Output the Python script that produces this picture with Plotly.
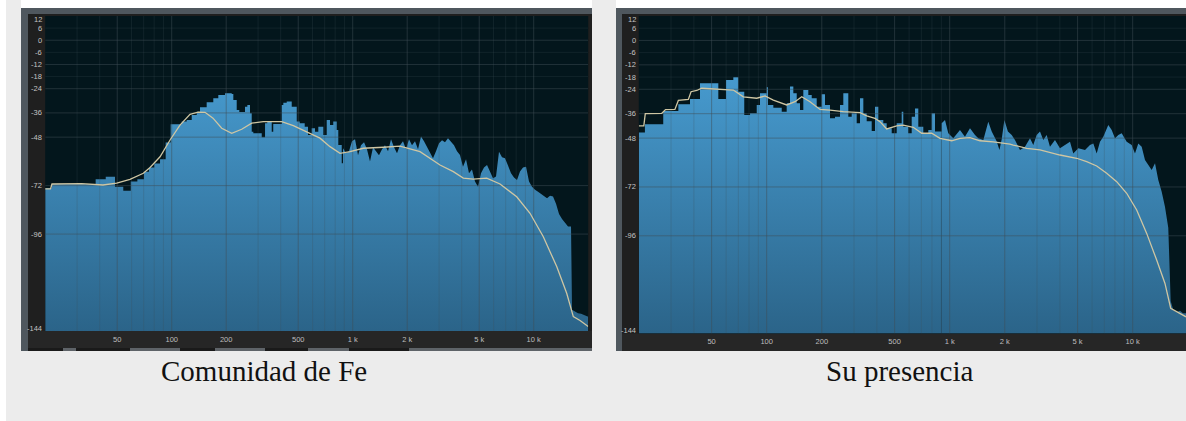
import numpy as np
import plotly.graph_objects as go

W, H = 1186, 421

# ---- shared analyzer scales ----
TICK_HZ = [50, 100, 200, 500, 1000, 2000, 5000, 10000]
TICK_TEXT = ["50", "100", "200", "500", "1 k", "2 k", "5 k", "10 k"]
MINOR_HZ = [30, 40, 60, 70, 80, 90, 300, 400, 600, 700, 800, 900,
            3000, 4000, 6000, 7000, 8000, 9000]
DB_TICKS = [12, 6, 0, -6, -12, -18, -24, -36, -48, -72, -96, -144]
DB_GRID_MAJOR = [0, -12, -24, -36, -48, -72, -96]
DB_GRID_MINOR = [6, -6, -18]
DB_MIN, DB_MAX = -144, 12
F_MIN = 20
F_MAX_LEFT = 20000
F_MAX_RIGHT = 19560
# above this frequency the bins are narrower than a pixel: draw the envelope as a line
SPLIT_HZ = 880

# ---- "Comunidad de Fe": spectrum (bin start in Hz, level in dB) ----
fe_freq = [
    20, 21.7, 38, 43.2, 48.6, 54, 59.4, 64.6, 70.3, 74.9,
    80.1, 86.2, 92.6, 98.7, 113.6, 121, 129, 137.5, 143.3, 156,
    169.7, 180.9, 197, 214.6, 219, 228.6, 236.3, 254.1, 261.7, 270.8,
    276.7, 282.4, 314.3, 327.8, 337.4, 356.9, 363.9, 405.4, 413.7, 431.9,
    460.3, 490.6, 509.4, 543, 566.2, 593.6, 619, 645.6, 688, 718.5,
    749, 781, 815.7, 832.4, 869.6,
    884, 918, 954, 991, 1030, 1070, 1111, 1155, 1199, 1246,
    1295, 1345, 1397, 1452, 1508, 1567, 1628, 1691, 1757, 1825,
    1896, 1970, 2046, 2126, 2209, 2295, 2384, 2477, 2573, 2673,
    2777, 2885, 2998, 3115, 3235, 3361, 3492, 3628, 3769, 3915,
    4068, 4227, 4390, 4561, 4739, 4923, 5114, 5314, 5521, 5736,
    5958, 6190, 6431, 6681, 6940, 7211, 7491, 7783, 8085, 8400,
    8727, 9067, 9419, 9786, 10167, 10563, 10973, 11400, 11844, 12305,
    12783, 13281, 13798, 14335, 14892, 15472, 16074, 16280, 17000, 17570,
    18258, 18967, 19700,
]
fe_db = [
    -73.3, -71.3, -68.8, -67.6, -72.5, -74.5, -70.0, -68.8, -65.1, -63.0,
    -61.0, -58.9, -50.6, -41.6, -40.3, -39.5, -37.0, -35.4, -33.2, -30.7,
    -28.7, -27.1, -26.3, -26.6, -29.6, -34.5, -35.5, -32.9, -32.1, -36.2,
    -45.3, -46.1, -48.0, -41.1, -40.3, -45.3, -41.5, -32.1, -30.9, -30.4,
    -32.9, -40.3, -41.1, -42.8, -46.9, -43.6, -45.3, -42.8, -46.9, -39.5,
    -42.0, -40.3, -44.4, -51.9, -60.9,
    -53.5, -56.0, -55.0, -50.0, -49.0, -57.0, -52.0, -50.5, -54.0, -60.0,
    -53.0, -55.0, -57.0, -54.0, -52.0, -55.0, -49.0, -53.0, -56.0, -52.0,
    -50.0, -54.0, -49.0, -52.0, -50.0, -54.0, -47.7, -50.0, -53.0, -55.5,
    -58.5, -55.0, -51.0, -49.5, -50.5, -48.5, -50.5, -52.0, -55.0, -56.8,
    -62.6, -59.0, -65.9, -64.0, -70.0, -72.5, -65.9, -63.0, -61.8, -65.0,
    -68.3, -67.5, -55.2, -58.0, -58.5, -62.0, -65.9, -68.0, -69.2, -65.0,
    -63.0, -62.6, -70.0, -72.5, -74.1, -75.0, -76.0, -77.0, -78.2, -77.0,
    -77.4, -81.0, -86.0, -88.5, -90.5, -92.3, -92.3, -133.5, -134.5, -135.2,
    -135.5, -136.2, -136.9,
]
# smoothed average curve
fe_curve_freq = [
    20, 21.4, 21.8, 31.8, 41.7, 49.7, 58.8, 69.7, 75.9, 86.2,
    97.9, 111.1, 126.2, 140, 152.8, 169.1, 188.9, 214.6, 243.6, 276.7,
    320.7, 405.4, 469.7, 557, 659.6, 749, 851, 966, 1145, 1476,
    1825, 2354, 3036, 3596, 4083, 4637, 5500, 6514, 8055, 9541,
    11298, 13400, 15215, 16553, 18024, 20000,
]
fe_curve_db = [
    -73.6, -73.6, -71.2, -71.0, -71.7, -70.8, -68.9, -65.9, -63.0, -57.7,
    -49.4, -42.0, -36.7, -35.6, -35.7, -38.6, -43.6, -46.1, -44.1, -41.1,
    -40.3, -40.3, -42.3, -45.3, -48.5, -52.7, -56.0, -55.2, -53.5, -53.0,
    -52.4, -55.2, -61.8, -65.1, -68.3, -68.8, -68.3, -71.2, -77.5, -85.7,
    -97.3, -112.1, -125.3, -136.9, -138.8, -141.8,
]

# ---- "Su presencia": spectrum (bin start in Hz, level in dB) ----
sp_freq = [
    20, 21.6, 27.2, 32.9, 38.1, 43.2, 54.4, 59.9, 65.7, 69.9,
    75.4, 81.1, 88.2, 91.9, 100, 101.6, 108.7, 120.8, 128.6, 134.1,
    139.8, 145.9, 152.1, 158.5, 168.8, 176.2, 187.6, 199.7, 208.2, 221.8,
    236.2, 251.5, 262.2, 279.2, 291.4, 310.3, 323.5, 337.3, 351.9, 374.8,
    390.7, 407.3, 433.7, 452.6, 482.1, 513.4, 546.7, 557.8, 593.9, 620,
    646.3, 673.7, 717.4, 764, 797.3, 831.2, 904.1, 942.6, 982.5, 1046,
    1138, 1212, 1291, 1375, 1433, 1527, 1625, 1697, 1806, 1870,
    1924, 1990, 2080, 2182, 2274, 2422, 2579, 2747, 2863, 2988,
    3115, 3247, 3388, 3532, 3762, 4006, 4267, 4544, 4736, 5043,
    5489, 5844, 6093, 6358, 6627, 6908, 7357, 7679, 8006, 8346,
    8708, 9273, 9874, 10294, 10731, 11200, 11675, 12172, 12700, 13244,
    13803, 14405, 15013, 15649, 16131, 16672, 17395, 18136, 18834,
]
sp_db = [
    -45.3, -41.2, -34.7, -31.4, -28.8, -21.1, -28.8, -19.4, -18.1, -25.2,
    -36.6, -35.8, -31.7, -26.0, -23.0, -31.7, -33.1, -35.0, -30.9, -22.7,
    -26.0, -30.9, -34.2, -24.4, -26.8, -28.4, -32.6, -26.5, -31.7, -38.3,
    -37.5, -31.7, -26.0, -37.5, -35.8, -40.7, -28.4, -35.8, -39.7, -44.5,
    -32.6, -39.1, -40.7, -43.2, -45.6, -40.7, -35.0, -42.4, -45.6, -37.5,
    -33.4, -42.4, -45.6, -44.0, -35.8, -44.8, -40.7, -39.1, -45.6, -48.1,
    -44.0, -47.3, -43.2, -46.5, -48.1, -48.9, -39.9, -44.8, -49.5, -53.8,
    -48.5, -39.1, -44.8, -46.5, -48.9, -53.8, -52.2, -48.1, -51.4, -46.5,
    -44.8, -48.9, -46.5, -52.2, -48.9, -53.0, -51.4, -49.8, -55.5, -53.0,
    -53.8, -51.4, -50.6, -55.5, -49.8, -47.3, -41.6, -44.0, -48.1, -46.5,
    -45.6, -49.8, -51.4, -55.5, -50.6, -52.2, -58.8, -61.2, -63.7, -60.4,
    -68.6, -74.3, -81.7, -92.0, -128.0, -132.5, -133.5, -132.8, -134.0,
]
sp_curve_freq = [
    20, 21.3, 21.7, 26.7, 28, 31.5, 32.9, 37.3, 38.6, 41.5,
    44.1, 47, 60.4, 65.7, 74.5, 88.2, 97.9, 108.7, 128.6, 142.8,
    155.4, 172.4, 195.6, 221.8, 262.2, 285.3, 323.5, 351.9, 390.7, 416,
    452.6, 513.4, 557.8, 632.6, 703.1, 797.3, 885.1, 1025, 1138, 1291,
    1464, 1731, 1963, 2135, 2226, 2635, 3115, 4006, 4943, 5605,
    6358, 7209, 8177, 9273, 10517, 11927, 13524, 15013, 16131, 17395,
    19559,
]
sp_curve_db = [
    -42.0, -42.0, -36.0, -35.8, -34.0, -33.9, -29.5, -29.0, -25.2, -24.6,
    -23.5, -23.6, -24.0, -24.4, -27.7, -28.4, -27.3, -29.3, -31.7, -30.1,
    -27.7, -30.1, -33.9, -34.2, -35.0, -35.2, -35.5, -37.1, -38.3, -39.9,
    -43.5, -42.0, -41.6, -42.7, -45.6, -45.6, -48.1, -49.3, -48.1, -47.8,
    -49.3, -49.8, -50.3, -50.9, -51.4, -53.0, -53.8, -56.3, -57.9, -59.6,
    -61.7, -65.3, -69.4, -75.1, -83.3, -94.8, -107.9, -119.4, -131.6, -133.3,
    -135.8,
]

CAPTIONS = ["Comunidad de Fe", "Su presencia"]

# ---- colours ----
PAGE_BG = "#ececec"
FRAME = "#4f575e"
FRAME_DARK = "#1f1f1f"
PLOT_BG = "#03161c"
FILL_SCALE = [[0.0, "#2b6489"], [1.0, "#4699cd"]]
GRID_MAJOR = "rgba(64,78,86,0.50)"
GRID_MINOR = "rgba(64,78,86,0.24)"
CURVE = "#cfc6a3"
LABEL = "#c4c4c4"

# panel geometry in pixels: plot left, plot right, plot top, plot bottom
PANELS = [
    dict(x0=45.2, x1=588.2, y0=16, y1=331, fmax=F_MAX_LEFT, xa="x", ya="y",
         freq=fe_freq, db=fe_db, cf=fe_curve_freq, cd=fe_curve_db,
         label_right=43.6, caption_x=264),
    dict(x0=638.8, x1=1186, y0=16, y1=333.5, fmax=F_MAX_RIGHT, xa="x2", ya="y2",
         freq=sp_freq, db=sp_db, cf=sp_curve_freq, cd=sp_curve_db,
         label_right=638.0, caption_x=899),
]


def px(xp):
    return xp / W


def py(yp):
    return 1 - yp / H


def rect(x0, y0, x1, y1, color):
    return dict(type="rect", xref="paper", yref="paper", layer="below",
                x0=px(x0), x1=px(x1), y0=py(y1), y1=py(y0),
                line=dict(width=0), fillcolor=color)


fig = go.Figure()
fill_grad = dict(type="vertical", colorscale=FILL_SCALE, start=DB_MIN, stop=-20)

for p in PANELS:
    xa, ya, fmax = p["xa"], p["ya"], p["fmax"]
    freq, db = p["freq"], p["db"]
    k = next(i for i, f in enumerate(freq) if f >= SPLIT_HZ)

    # wide low-frequency bins: stepped area closed down to the floor
    lo_x = [F_MIN] + freq[:k] + [freq[k], freq[k]]
    lo_y = [DB_MIN] + db[:k] + [db[k - 1], DB_MIN]
    fig.add_trace(go.Scatter(
        x=lo_x, y=lo_y, mode="lines", fill="toself",
        line=dict(width=0, shape="hv", color="rgba(0,0,0,0)"),
        fillgradient=fill_grad,
        xaxis=xa, yaxis=ya, hoverinfo="skip", showlegend=False))
    # dense high-frequency envelope
    hi_x = [freq[k]] + freq[k:] + [fmax, fmax]
    hi_y = [DB_MIN] + db[k:] + [db[-1], DB_MIN]
    fig.add_trace(go.Scatter(
        x=hi_x, y=hi_y, mode="lines", fill="toself",
        line=dict(width=0, color="rgba(0,0,0,0)"),
        fillgradient=fill_grad,
        xaxis=xa, yaxis=ya, hoverinfo="skip", showlegend=False))

    # analyzer grid drawn over the spectrum
    def vgrid(freqs):
        gx, gy = [], []
        for f in freqs:
            if F_MIN < f < fmax:
                gx += [f, f, None]
                gy += [DB_MIN, DB_MAX, None]
        return gx, gy

    def hgrid(levels):
        gx, gy = [], []
        for v in levels:
            gx += [F_MIN, fmax, None]
            gy += [v, v, None]
        return gx, gy

    for (gx, gy), col in [(vgrid(MINOR_HZ), GRID_MINOR),
                          (hgrid(DB_GRID_MINOR), GRID_MINOR),
                          (vgrid(TICK_HZ), GRID_MAJOR),
                          (hgrid(DB_GRID_MAJOR), GRID_MAJOR)]:
        fig.add_trace(go.Scatter(
            x=gx, y=gy, mode="lines", line=dict(width=1, color=col),
            xaxis=xa, yaxis=ya, hoverinfo="skip", showlegend=False))

    # smoothed response curve
    fig.add_trace(go.Scatter(
        x=p["cf"], y=p["cd"], mode="lines",
        line=dict(width=1.3, color=CURVE),
        xaxis=xa, yaxis=ya, hoverinfo="skip", showlegend=False))

# ---- page and analyzer frames ----
shapes = [
    rect(6, 0, W, H, PAGE_BG),
    rect(21, 0, 592, 8, "#ffffff"),
    rect(616, 0, W, 8, "#ffffff"),
    # left analyzer
    rect(21, 8, 592, 351, FRAME),
    rect(28, 14, 592, 348, FRAME_DARK),
    rect(28, 331, 592, 348, "#262626"),
    rect(28, 348, 592, 351, "#5e6368"),
]
for a, b in [(28, 63), (76, 130), (180, 215), (265, 308), (349, 409)]:
    shapes.append(rect(a, 348, b, 351, "#1a1a1a"))
shapes += [
    rect(45.2, 16, 588.2, 331, PLOT_BG),
    # right analyzer
    rect(616, 8, W, 351, FRAME),
    rect(622, 14, W, 351, FRAME_DARK),
    rect(622, 333.5, W, 351, "#262626"),
    rect(638.8, 16, W, 333.5, PLOT_BG),
]

annotations = []
for i, p in enumerate(PANELS):
    yref = "y" if p["ya"] == "y" else "y2"
    for v in DB_TICKS:
        shift = 0
        if v == DB_MAX:
            shift = -3
        elif v == DB_MIN:
            shift = 3
        annotations.append(dict(
            x=px(p["label_right"]), xref="paper", xanchor="right",
            y=v, yref=yref, yanchor="middle", yshift=shift,
            text=str(v), showarrow=False,
            font=dict(family="Liberation Sans", size=7.5, color=LABEL)))
    annotations.append(dict(
        x=px(p["caption_x"]), xref="paper", xanchor="center",
        y=py(371), yref="paper", yanchor="middle",
        text=CAPTIONS[i], showarrow=False,
        font=dict(family="Liberation Serif", size=29, color="#111111")))

axis_common = dict(showgrid=False, zeroline=False, showline=False, fixedrange=True)
xaxis_common = dict(axis_common, type="log", tickmode="array",
                    tickvals=TICK_HZ, ticktext=TICK_TEXT, ticks="",
                    tickfont=dict(family="Liberation Sans", size=7.5, color="#bdbdbd"),
                    ticklabelstandoff=2)
yaxis_common = dict(axis_common, range=[DB_MIN, DB_MAX], showticklabels=False)

L, R = PANELS
fig.update_layout(
    width=W, height=H,
    margin=dict(l=0, r=0, t=0, b=0),
    paper_bgcolor="#ffffff",
    plot_bgcolor=PLOT_BG,
    showlegend=False,
    shapes=shapes,
    annotations=annotations,
    xaxis=dict(xaxis_common, domain=[px(L["x0"]), px(L["x1"])],
               range=[np.log10(F_MIN), np.log10(L["fmax"])], anchor="y"),
    yaxis=dict(yaxis_common, domain=[py(L["y1"]), py(L["y0"])], anchor="x"),
    xaxis2=dict(xaxis_common, domain=[px(R["x0"]), px(R["x1"])],
                range=[np.log10(F_MIN), np.log10(R["fmax"])], anchor="y2"),
    yaxis2=dict(yaxis_common, domain=[py(R["y1"]), py(R["y0"])], anchor="x2"),
)

fig.write_html("out.html")
